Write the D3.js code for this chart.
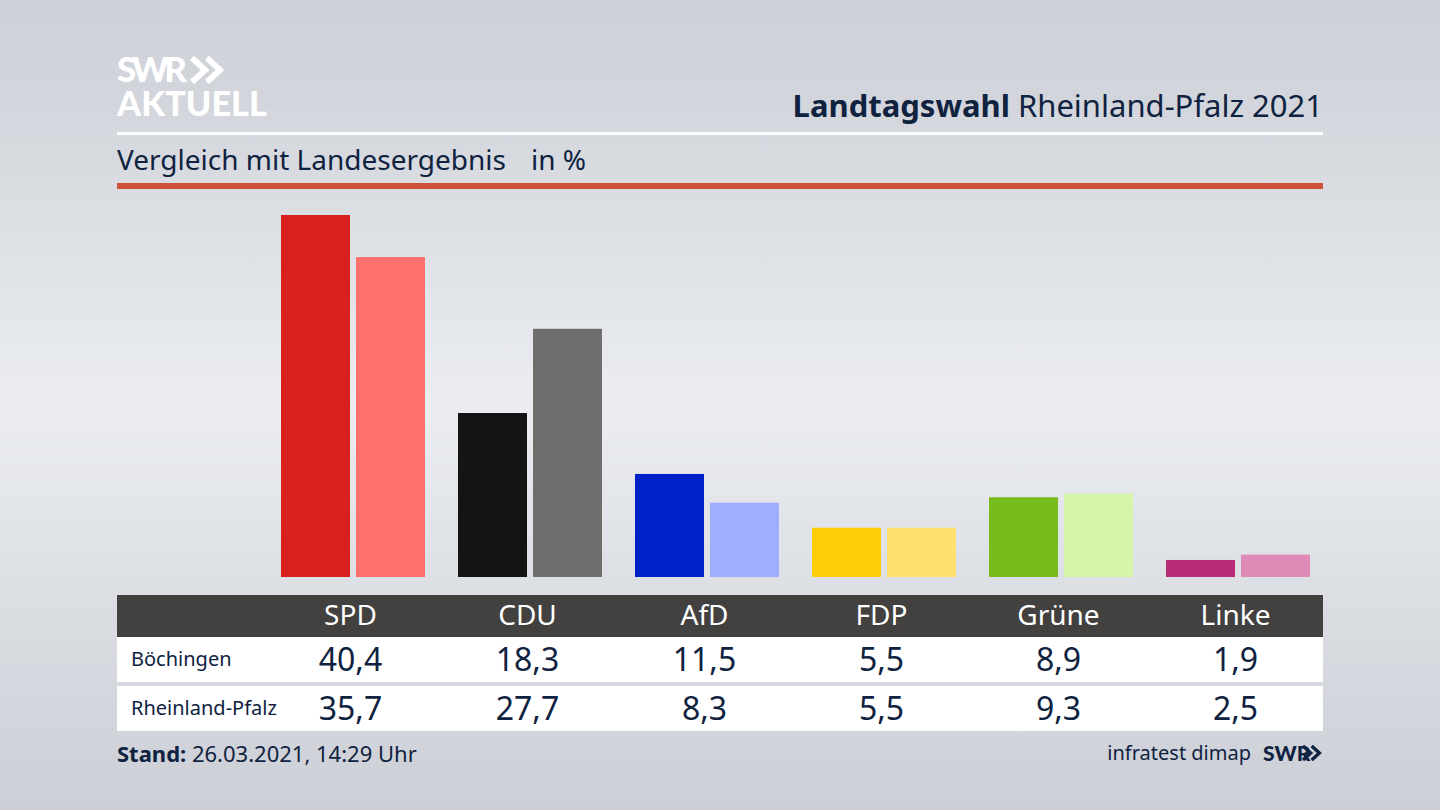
<!DOCTYPE html>
<html>
<head>
<meta charset="utf-8">
<script src="https://cdn.jsdelivr.net/npm/d3@7"></script>
<style>
    html, body { margin: 0; padding: 0; background: #d0d3da; overflow: hidden; }
    svg { display: block; }
    text { font-family: "Noto Sans", sans-serif; fill: #0f2240; }
</style>
</head>
<body>
<script>
    var parties = ['SPD', 'CDU', 'AfD', 'FDP', 'Grüne', 'Linke'];
    var regions = ['Böchingen', 'Rheinland-Pfalz'];
    var boechingen = [40.4, 18.3, 11.5, 5.5, 8.9, 1.9];
    var rlp = [35.7, 27.7, 8.3, 5.5, 9.3, 2.5];
    var coloursBoechingen = ['#d8201f', '#141414', '#0021c8', '#ffcc0a', '#78bb1c', '#b82d78'];
    var coloursRlp = ['#ff716d', '#6f6e6c', '#a0aeff', '#ffe170', '#d5f6a8', '#e08ab8'];

    var W = 1440, H = 810;
    var fmt = function(v) { return v.toFixed(1).replace('.', ','); };

    var svg = d3.select('body').append('svg')
        .attr('width', W)
        .attr('height', H);

    var defs = svg.append('defs');
    var bg = defs.append('linearGradient')
        .attr('id', 'bg')
        .attr('x1', 0).attr('y1', 0).attr('x2', 0).attr('y2', 1);
    [[0, '#ced1d8'], [0.12, '#d2d5db'], [0.5, '#ebedf1'], [0.88, '#d2d5db'], [1, '#ccd0d6']].forEach(function(d) {
        bg.append('stop').attr('offset', d[0]).attr('stop-color', d[1]);
    });

    svg.append('rect').attr('width', W).attr('height', H).attr('fill', 'url(#bg)');

    // scales
    var x = d3.scaleBand().domain(parties).range([262, 1324]);
    var xInner = d3.scaleBand().domain(regions).range([19, 163]).paddingInner(0.08);
    var y = d3.scaleLinear().domain([0, 40.4]).range([577, 215]);

    // header
    var chevrons = function(g, px, py, s, colour) {
        [0, 0.62].forEach(function(o) {
            g.append('path')
                .attr('d', d3.line()([[px + o * s, py], [px + o * s + s * 0.55, py + s * 0.5], [px + o * s, py + s]]))
                .attr('fill', 'none')
                .attr('stroke', colour)
                .attr('stroke-width', s * 0.24);
        });
    };

    svg.append('text').attr('x', 117).attr('y', 82)
        .style('font-family', 'Lato').style('font-weight', 900).style('font-size', '35px')
        .style('fill', '#fff').attr('textLength', 70).text('SWR');
    chevrons(svg, 192, 58, 24, '#fff');
    svg.append('text').attr('x', 117).attr('y', 116)
        .style('font-family', 'Lato').style('font-weight', 900).style('font-size', '35px')
        .style('fill', '#fff').attr('textLength', 150).attr('lengthAdjust', 'spacingAndGlyphs').text('AKTUELL');

    var title = svg.append('text').attr('x', 1323).attr('y', 117)
        .attr('text-anchor', 'end').style('font-size', '31px');
    title.append('tspan').style('font-weight', 700).text('Landtagswahl');
    title.append('tspan').text(' Rheinland-Pfalz 2021');

    svg.append('rect').attr('x', 117).attr('y', 132).attr('width', 1206).attr('height', 3).attr('fill', '#fff');

    svg.append('text').attr('x', 117).attr('y', 170).style('font-size', '28px').text('Vergleich mit Landesergebnis');
    svg.append('text').attr('x', 531).attr('y', 170).style('font-size', '28px').text('in %');

    svg.append('rect').attr('x', 117).attr('y', 183).attr('width', 1206).attr('height', 6).attr('fill', '#cd5038');

    // bars
    var groups = svg.selectAll('g.party')
        .data(parties)
        .enter().append('g')
        .attr('class', 'party')
        .attr('transform', function(d) { return 'translate(' + [x(d), 0] + ')'; });

    groups.append('rect')
        .attr('x', xInner(regions[0]))
        .attr('width', xInner.bandwidth())
        .attr('y', function(d, i) { return y(boechingen[i]); })
        .attr('height', function(d, i) { return y(0) - y(boechingen[i]); })
        .attr('fill', function(d, i) { return coloursBoechingen[i]; });

    groups.append('rect')
        .attr('x', xInner(regions[1]))
        .attr('width', xInner.bandwidth())
        .attr('y', function(d, i) { return y(rlp[i]); })
        .attr('height', function(d, i) { return y(0) - y(rlp[i]); })
        .attr('fill', function(d, i) { return coloursRlp[i]; });

    // table
    svg.append('rect').attr('x', 117).attr('y', 595).attr('width', 1206).attr('height', 42).attr('fill', '#424140');
    svg.append('rect').attr('x', 117).attr('y', 637).attr('width', 1206).attr('height', 45).attr('fill', '#fff');
    svg.append('rect').attr('x', 117).attr('y', 686).attr('width', 1206).attr('height', 45).attr('fill', '#fff');

    var cx = function(d) { return x(d) + x.bandwidth() / 2; };

    svg.selectAll('text.head')
        .data(parties)
        .enter().append('text')
        .attr('class', 'head')
        .attr('x', cx)
        .attr('y', 625)
        .attr('text-anchor', 'middle')
        .style('font-size', '28px')
        .style('fill', '#fff')
        .text(function(d) { return d; });

    [[regions[0], boechingen, 670], [regions[1], rlp, 719]].forEach(function(row) {
        svg.append('text').attr('x', 131).attr('y', row[2] - 4)
            .style('font-size', '20px')
            .text(row[0]);

        svg.selectAll('text.v' + row[2])
            .data(parties)
            .enter().append('text')
            .attr('class', 'v' + row[2])
            .attr('x', cx)
            .attr('y', row[2] + 1)
            .attr('text-anchor', 'middle')
            .style('font-size', '32px')
            .text(function(d, i) { return fmt(row[1][i]); });
    });

    // footer
    var stand = svg.append('text').attr('x', 117).attr('y', 762).style('font-size', '22px');
    stand.append('tspan').style('font-weight', 700).text('Stand:');
    stand.append('tspan').text(' 26.03.2021, 14:29 Uhr');

    svg.append('text').attr('x', 1251).attr('y', 760)
        .attr('text-anchor', 'end').style('font-size', '20px').text('infratest dimap');
    svg.append('text').attr('x', 1263).attr('y', 761)
        .style('font-family', 'Lato').style('font-weight', 900).style('font-size', '21px').text('SWR');
    chevrons(svg, 1303, 746, 14, '#0f2240');
</script>
</body>
</html>
